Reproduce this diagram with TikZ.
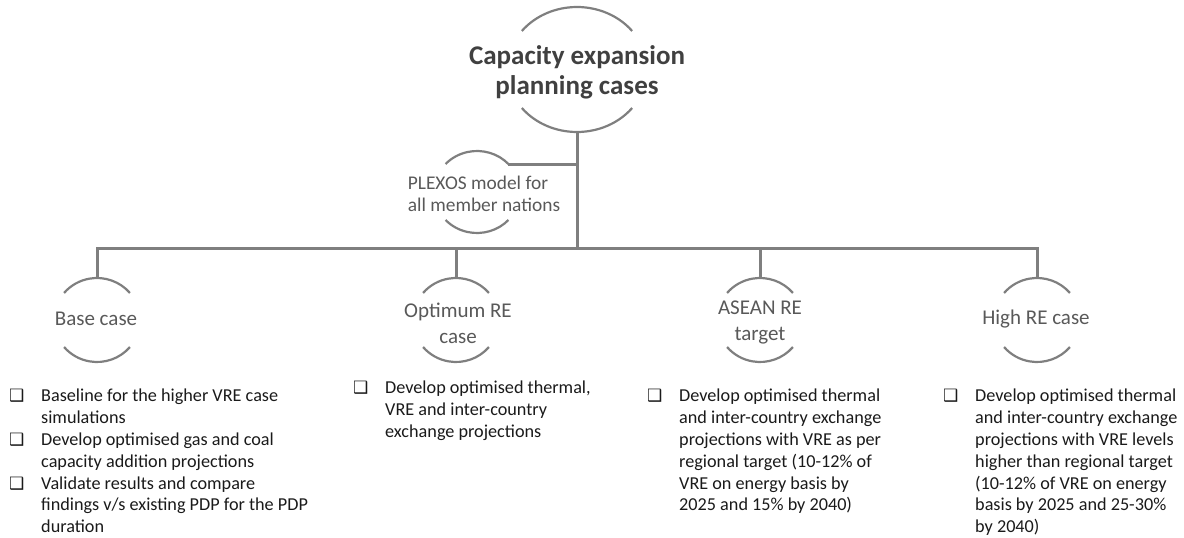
\documentclass[tikz,border=0pt]{standalone}
\usepackage{fontspec}
\setmainfont{Carlito}
\newfontfamily\bulletfont{DejaVu Sans}
\usetikzlibrary{calc}
\definecolor{linegray}{HTML}{7F7F7F}
\definecolor{titlegray}{HTML}{404040}
\definecolor{labelgray}{HTML}{595959}
\definecolor{bodytext}{HTML}{1A1A1A}
% square bullet followed by the item indent
\newcommand{\bul}{\makebox[32pt][l]{\bulletfont\fontsize{17}{17}\selectfont ❑}}
\newcommand{\ind}{\hspace*{32pt}}
% pair of open arcs (top and bottom) around a centre: centre, x radius, y radius, half-gap angle
\newcommand{\arcpair}[4]{%
  \draw[arcline] ([shift={(-#4:#2 and #3)}]#1) arc[start angle=-#4,end angle=-180+#4,x radius=#2,y radius=#3];
  \draw[arcline] ([shift={(#4:#2 and #3)}]#1) arc[start angle=#4,end angle=180-#4,x radius=#2,y radius=#3];}

\begin{document}
\begin{tikzpicture}[x=1pt,y=-1pt,
  conn/.style={draw=linegray,line width=3pt},
  arcline/.style={draw=linegray,line width=2.2pt},
  titletext/.style={inner sep=0pt,align=center,text=titlegray,font=\fontsize{27}{30}\selectfont\bfseries},
  casetext/.style={inner sep=0pt,align=center,text=labelgray,font=\fontsize{21}{26}\selectfont},
  plexostext/.style={inner sep=0pt,align=left,text=labelgray,font=\fontsize{19.4}{22}\selectfont},
  listtext/.style={inner sep=0pt,align=left,anchor=north west,text=bodytext,font=\fontsize{18.2}{21.8}\selectfont},
]
\useasboundingbox (0,0) rectangle (1184,538);

% top node
\coordinate (titleC) at (577,69.5);
\node[titletext] (title) at (577,72) {Capacity expansion\\planning cases};
\arcpair{titleC}{70}{62.5}{38}
\coordinate (titleB) at ($(titleC)+(0,62.5)$);
\coordinate (hub) at (577,248);

% model node
\coordinate (plexC) at (477,192);
\node[plexostext] (plexos) at (484,194) {PLEXOS model for\\all member nations};
\arcpair{plexC}{43}{41}{43}
\coordinate (plexR) at ($(plexC)+(-43:43 and 41)$);

% case nodes
\coordinate (baseC) at (97,320);
\node[casetext] (base) at (96,319) {Base case};
\arcpair{baseC}{43}{42}{40}
\coordinate (baseT) at ($(baseC)+(0,-42)$);

\coordinate (optC) at (456,320);
\node[casetext] (opt) at (458,323) {Optimum RE\\case};
\arcpair{optC}{43}{42}{40}
\coordinate (optT) at ($(optC)+(0,-42)$);

\coordinate (aseanC) at (760,320);
\node[casetext] (asean) at (760,322) {ASEAN RE\\target};
\arcpair{aseanC}{43}{42}{40}
\coordinate (aseanT) at ($(aseanC)+(0,-42)$);

\coordinate (highC) at (1037,320);
\node[casetext] (high) at (1036,319) {High RE case};
\arcpair{highC}{43}{42}{40}
\coordinate (highT) at ($(highC)+(0,-42)$);

% connectors
\draw[conn] (titleB) -- (hub);
\draw[conn] (plexR) -- (plexR -| hub);
\draw[conn] (baseT) |- (hub) -| (highT);
\draw[conn] (optT) -- (optT |- hub);
\draw[conn] (aseanT) -- (aseanT |- hub);

% bullet lists
\node[listtext] (baselist) at (9,389) {\bul Baseline for the higher VRE case\\\ind simulations\\\bul Develop optimised gas and coal\\\ind capacity addition projections\\\bul Validate results and compare\\\ind findings v/s existing PDP for the PDP\\\ind duration};
\node[listtext] (optlist) at (353,381) {\bul Develop optimised thermal,\\\ind VRE and inter-country\\\ind exchange projections};
\node[listtext] (aseanlist) at (647,389) {\bul Develop optimised thermal\\\ind and inter-country exchange\\\ind projections with VRE as per\\\ind regional target (10-12\% of\\\ind VRE on energy basis by\\\ind 2025 and 15\% by 2040)};
\node[listtext] (highlist) at (943,389) {\bul Develop optimised thermal\\\ind and inter-country exchange\\\ind projections with VRE levels\\\ind higher than regional target\\\ind (10-12\% of VRE on energy\\\ind basis by 2025 and 25-30\%\\\ind by 2040)};
\end{tikzpicture}
\end{document}
